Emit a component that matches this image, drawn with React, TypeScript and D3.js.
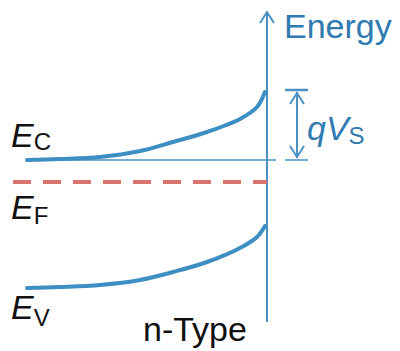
import React from "react";
import * as d3 from "d3";

// Band diagram of an n-type semiconductor near its surface (energies in eV, E_F = 0)
const depth = [0, 33, 73, 113, 146, 180, 213, 230, 238];
const conductionBand = [0.22, 0.23, 0.25, 0.31, 0.4, 0.5, 0.63, 0.75, 0.9];
const valenceBand = [-1.06, -1.05, -1.03, -0.98, -0.9, -0.8, -0.66, -0.55, -0.44];
const fermiLevel = 0;
const bulkConduction = 0.22;
const surfaceConduction = 0.92;
const labels = { energy: "Energy", type: "n-Type" };

const W = 400;
const H = 351;
const BLUE = "#3d8ec2";
const AXIS = "#4a90c2";
const TEXT_BLUE = "#2f7ab0";
const RED = "#d9756d";

export default function App() {
  const x = d3.scaleLinear().domain([0, 240]).range([27, 267]);
  const y = d3.scaleLinear().domain([-1.4, 1.7]).range([322, 12]);

  const line = d3
    .line<[number, number]>()
    .x((d) => x(d[0]))
    .y((d) => y(d[1]))
    .curve(d3.curveCatmullRom.alpha(0.5));

  const ec = line(depth.map((d, i) => [d, conductionBand[i]]))!;
  const ev = line(depth.map((d, i) => [d, valenceBand[i]]))!;

  const axisX = x(240);
  const yBulk = y(bulkConduction);
  const ySurf = y(surfaceConduction);
  const bx = 297;

  return (
    <svg
      width={W}
      height={H}
      viewBox={`0 0 ${W} ${H}`}
      style={{ position: "absolute", left: 0, top: 0, background: "#fff" }}
      fontFamily="Liberation Sans, Arial, sans-serif"
    >
      {/* Energy axis at the surface */}
      <line x1={axisX} x2={axisX} y1={12} y2={322} stroke={AXIS} strokeWidth={2} />
      <polyline
        points={`${axisX - 7},${23} ${axisX},${12} ${axisX + 7},${23}`}
        fill="none"
        stroke={AXIS}
        strokeWidth={2}
      />
      <text x={284} y={38} fontSize={34} fill={TEXT_BLUE}>
        {labels.energy}
      </text>

      {/* Flat-band reference of E_C */}
      <line x1={x(0)} x2={276} y1={yBulk} y2={yBulk} stroke={AXIS} strokeWidth={1.5} />

      {/* Fermi level */}
      <line
        x1={13}
        x2={axisX}
        y1={y(fermiLevel)}
        y2={y(fermiLevel)}
        stroke={RED}
        strokeWidth={4}
        strokeDasharray="18 12"
      />

      {/* Bent bands */}
      <path d={ec} fill="none" stroke={BLUE} strokeWidth={4} strokeLinecap="round" />
      <path d={ev} fill="none" stroke={BLUE} strokeWidth={4} strokeLinecap="round" />

      {/* Surface potential bracket */}
      <line x1={285} x2={308} y1={ySurf} y2={ySurf} stroke={AXIS} strokeWidth={2.5} />
      <line x1={285} x2={308} y1={yBulk} y2={yBulk} stroke={AXIS} strokeWidth={1.5} />
      <line x1={bx} x2={bx} y1={ySurf + 2} y2={yBulk - 2} stroke={AXIS} strokeWidth={2} />
      <polyline
        points={`${bx - 7},${ySurf + 14} ${bx},${ySurf + 3} ${bx + 7},${ySurf + 14}`}
        fill="none"
        stroke={AXIS}
        strokeWidth={2}
      />
      <polyline
        points={`${bx - 7},${yBulk - 14} ${bx},${yBulk - 3} ${bx + 7},${yBulk - 14}`}
        fill="none"
        stroke={AXIS}
        strokeWidth={2}
      />
      <text x={307} y={140} fontSize={34} fill={TEXT_BLUE}>
        <tspan fontStyle="italic">q</tspan>
        <tspan fontStyle="italic">V</tspan>
        <tspan fontSize={24} dy={4}>S</tspan>
      </text>

      {/* Band labels */}
      <text x={11} y={147} fontSize={34} fill="#111">
        <tspan fontStyle="italic">E</tspan>
        <tspan fontSize={24} dy={3}>C</tspan>
      </text>
      <text x={11} y={219} fontSize={34} fill="#111">
        <tspan fontStyle="italic">E</tspan>
        <tspan fontSize={24} dy={5}>F</tspan>
      </text>
      <text x={11} y={319} fontSize={34} fill="#111">
        <tspan fontStyle="italic">E</tspan>
        <tspan fontSize={24} dy={7}>V</tspan>
      </text>

      <text x={143} y={341} fontSize={34} fill="#111">
        {labels.type}
      </text>
    </svg>
  );
}
